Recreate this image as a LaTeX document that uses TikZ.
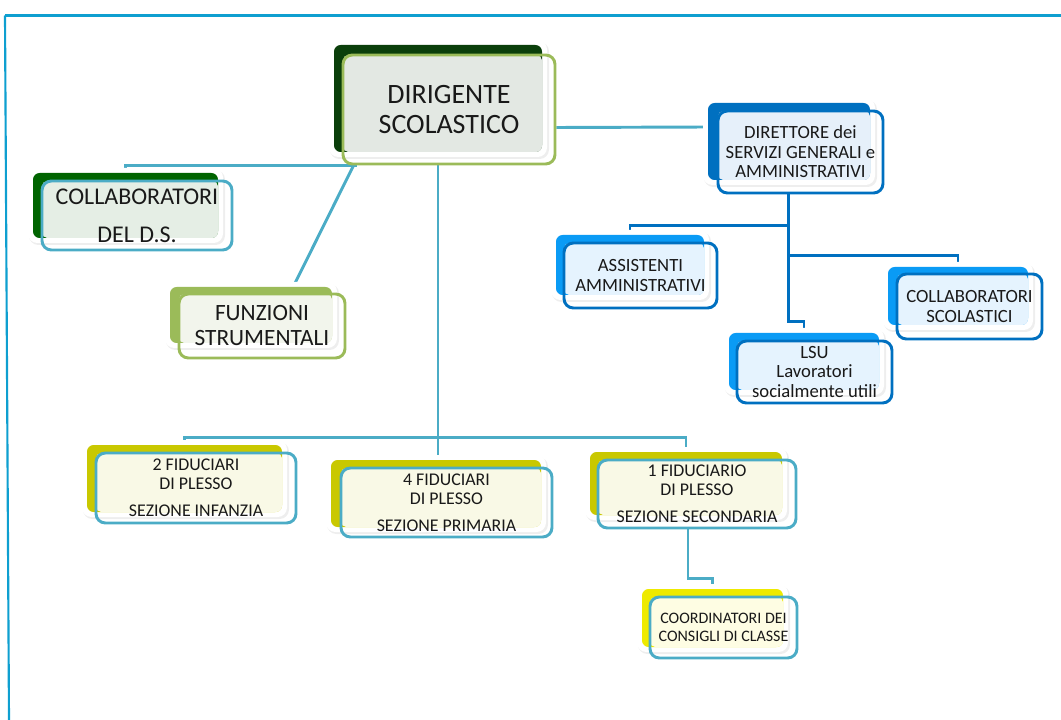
\documentclass[tikz,border=0pt]{standalone}
\usepackage{fontspec}
\setmainfont{Carlito}
\usetikzlibrary{calc,fit}
\pgfdeclarelayer{bg}
\pgfsetlayers{bg,main}
\definecolor{dkgreen}{HTML}{0B3F0B}
\definecolor{mgreen}{HTML}{006400}
\definecolor{lgreen}{HTML}{9BBB59}
\definecolor{lblue}{HTML}{4BACC6}
\definecolor{dblue}{HTML}{0070C0}
\definecolor{bblue}{HTML}{0A9BF5}
\definecolor{olive}{HTML}{C9C800}
\definecolor{yel}{HTML}{EEEA00}
\definecolor{fdir}{HTML}{E3E8E3}
\definecolor{fcol}{HTML}{E5EEE5}
\definecolor{ffun}{HTML}{F2F5EC}
\definecolor{fblue}{HTML}{E6F0FA}
\definecolor{fblue2}{HTML}{E5F3FE}
\definecolor{fcream}{HTML}{F9F9E6}
\definecolor{fcream2}{HTML}{FEFDE3}
\definecolor{framec}{HTML}{0E9FD0}
\newcommand\obox[8]{%
  \fill[gray!13, rounded corners=7] ($#2+(-4,-3)$) rectangle ($#3+(7,7)$);
  \fill[white, rounded corners=7] ($#2+(-5,-5)$) rectangle ($#3+(5,5)$);
  \node[fit={#2 #3}, inner sep=0, fill=#6, rounded corners=5] (#1-b) {};
  \fill[#7, rounded corners=4] #4 rectangle #3;
  \node[fit={#4 #5}, inner sep=0, draw=#8, line width=2.2pt, rounded corners=7] (#1) {};
}
\begin{document}
\begin{tikzpicture}[x=0.75pt,y=-0.75pt,
  conn/.style={draw=lblue, line width=2.2pt},
  bconn/.style={draw=dblue, line width=2pt},
  frame/.style={draw=framec, line width=1.6pt},
  lbl/.style={align=center, text=black!90}]
\useasboundingbox (0,0) rectangle (1061,720);
\draw[frame] (5,15.5) -- (1061,15.5);
\draw[frame] (5,15.5) -- (9,720);

\obox{dir}{(334,45)}{(542,152)}{(343,55)}{(555,164)}{dkgreen}{fdir}{lgreen}
\obox{colds}{(33,173)}{(218,238)}{(42,181)}{(232,250)}{mgreen}{fcol}{lblue}
\obox{funz}{(170,287)}{(332,343)}{(179,294)}{(345,358)}{lgreen}{ffun}{lgreen}
\obox{dsga}{(708,103)}{(870,180)}{(718,111)}{(883,193)}{dblue}{fblue}{dblue}
\obox{ass}{(556,235)}{(704,295)}{(564,243)}{(717,308)}{bblue}{fblue2}{dblue}
\obox{colsc}{(888,267)}{(1028,325)}{(897,274)}{(1042,339)}{bblue}{fblue2}{dblue}
\obox{lsu}{(729,333)}{(879,390)}{(737,341)}{(892,403)}{bblue}{fblue2}{dblue}
\obox{fid1}{(87,445)}{(282,512)}{(96,453)}{(296,523)}{olive}{fcream}{lblue}
\obox{fid2}{(331,460)}{(541,527)}{(341,468)}{(552,537)}{olive}{fcream}{lblue}
\obox{fid3}{(590,452)}{(782,515)}{(598,460)}{(796,528)}{olive}{fcream}{lblue}
\obox{coord}{(642,589)}{(783,647)}{(650,597)}{(797,658)}{yel}{fcream2}{lblue}

\node[lbl, font=\fontsize{21}{22.5}\selectfont] (dir-t) at (dir) {DIRIGENTE\\SCOLASTICO};
\node[lbl, font=\fontsize{18}{28.5}\selectfont] (colds-t) at (colds) {COLLABORATORI\\DEL D.S.};
\node[lbl, font=\fontsize{17.5}{18.75}\selectfont] (funz-t) at (funz) {FUNZIONI\\STRUMENTALI};
\node[lbl, font=\fontsize{14}{14.6}\selectfont] (dsga-t) at (dsga) {DIRETTORE dei\\SERVIZI GENERALI e\\AMMINISTRATIVI};
\node[lbl, font=\fontsize{14}{14.8}\selectfont] (ass-t) at (ass) {ASSISTENTI\\AMMINISTRATIVI};
\node[lbl, font=\fontsize{14}{14.3}\selectfont] (colsc-t) at (colsc) {COLLABORATORI\\SCOLASTICI};
\node[lbl, font=\fontsize{14}{14.3}\selectfont] (lsu-t) at (lsu) {LSU\\Lavoratori\\socialmente utili};
\node[lbl, font=\fontsize{13.4}{14.25}\selectfont] (fid1-t) at (fid1) {2 FIDUCIARI\\DI PLESSO\\[6pt]SEZIONE INFANZIA};
\node[lbl, font=\fontsize{13.4}{14.25}\selectfont] (fid2-t) at (fid2) {4 FIDUCIARI\\DI PLESSO\\[6pt]SEZIONE PRIMARIA};
\node[lbl, font=\fontsize{13.4}{14.25}\selectfont] (fid3-t) at (fid3) {1 FIDUCIARIO\\DI PLESSO\\[6pt]SEZIONE SECONDARIA};
\node[lbl, font=\fontsize{12}{13.5}\selectfont] (coord-t) at (coord) {COORDINATORI DEI\\CONSIGLI DI CLASSE};

\begin{pgfonlayer}{bg}
  \draw[conn] ($(dir.south west)+(15,0)$) -| (colds-b.north);
  \draw[conn] ($(dir.south west)+(12,0)$) -- ($(funz-b.north west)!0.76!(funz-b.north east)$);
  \coordinate (dtop) at ($(dir.south)+(-11,0)$);
  \coordinate (hub) at ($(dtop)+(0,272)$);
  \draw[conn] (dtop) -- (dtop |- fid2-b.north);
  \draw[conn] (fid1-b.north) |- (hub) -| (fid3-b.north);
  \draw[conn] ($(fid3.south)+(-9,0)$) -- ++(0,49) -| (coord-b.north);
  \draw[conn] ($(dir.east)+(0,18)$) -- ($(dsga-b.west)+(0,-14.5)$);
  \coordinate (dv) at ($(dsga.south)+(-12,0)$);
  \draw[bconn] (dv) -- ++(0,127) -| (lsu-b.north);
  \draw[bconn] ($(dv)+(0,31)$) -| (ass-b.north);
  \draw[bconn] ($(dv)+(0,61)$) -| (colsc-b.north);
\end{pgfonlayer}
\end{tikzpicture}
\end{document}
